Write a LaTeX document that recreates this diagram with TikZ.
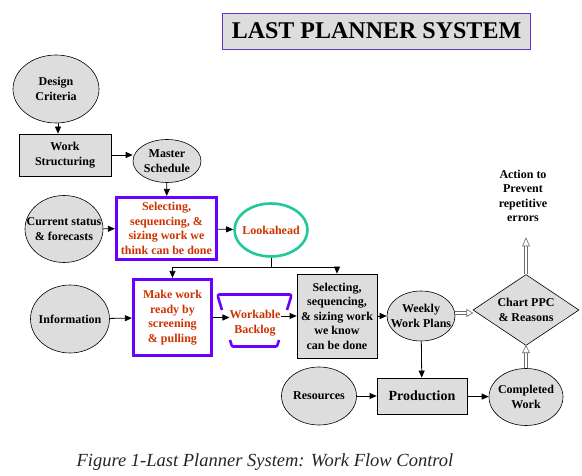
\documentclass[tikz,border=0pt]{standalone}
\usepackage{fontspec}
\setmainfont{Liberation Serif}
\usetikzlibrary{shapes.geometric,arrows.meta,calc}
\definecolor{boxgray}{HTML}{DDDDDD}
\definecolor{vio}{HTML}{6A00FF}
\definecolor{titlevio}{HTML}{6633CC}
\definecolor{teal}{HTML}{1FC99A}
\definecolor{redtxt}{HTML}{CC3300}
\begin{document}
\begin{tikzpicture}[x=1pt,y=-1pt,
  bodyfont/.style={font=\fontsize{12}{14.5}\selectfont\bfseries, align=center},
  ell/.style={ellipse, draw=black, line width=0.6pt, fill=boxgray, inner sep=0pt},
  etext/.style={bodyfont, inner sep=0pt},
  gbox/.style={rectangle, draw=black, line width=0.8pt, fill=boxgray, inner sep=0pt, bodyfont},
  vbox/.style={rectangle, draw=vio, line width=3.2pt, fill=white, inner sep=0pt, bodyfont, text=redtxt},
  arr/.style={draw=black, line width=0.8pt, -{Triangle[length=7pt,width=6pt]}},
  hshaft/.style={draw=gray!85!black, line width=0.6pt, double=white, double distance=2.4pt},
  hhead/.style={draw=gray!85!black, line width=0.6pt, fill=white, line join=miter},
]
\useasboundingbox (0,0) rectangle (582,476);
\fill[white] (0,0) rectangle (582,476);

% title
\node[rectangle, draw=titlevio, line width=0.9pt, fill=boxgray, minimum width=308pt, minimum height=36pt,
  font=\fontsize{24}{26}\selectfont\bfseries] (title) at (376.5,31) {LAST PLANNER SYSTEM};

% nodes
\node[ell, minimum width=86pt, minimum height=68pt, label={[etext]center:{Design\\Criteria}}] (dc) at (56,89) {};
\node[gbox, minimum width=92pt, minimum height=42pt] (ws) at (65,155) {Work\\Structuring};
\node[ell, minimum width=68pt, minimum height=43pt, label={[etext]center:{Master\\Schedule}}] (ms) at (167,161) {};
\node[ell, minimum width=78pt, minimum height=67pt, label={[etext]center:{Current status\\\& forecasts}}] (cs) at (64,229) {};
\node[vbox, minimum width=100pt, minimum height=62pt] (s1) at (166.5,228.5)
  {Selecting,\\sequencing, \&\\sizing work we\\think can be done};
\node[ellipse, draw=teal, line width=2.6pt, fill=white, inner sep=0pt, minimum width=73pt, minimum height=53pt,
  label={[etext, text=redtxt]center:Lookahead}] (la) at (271,230) {};
\node[ell, minimum width=79pt, minimum height=68pt, label={[etext]center:Information}] (inf) at (70,319) {};
\node[vbox, minimum width=78pt, minimum height=76pt] (mw) at (172.5,317.5)
  {Make work\\ready by\\screening\\\& pulling};
\node[bodyfont, text=redtxt, inner sep=0pt] (wb) at (255,323) {Workable\\Backlog};
\node[gbox, minimum width=80pt, minimum height=84pt] (s2) at (337,316)
  {Selecting,\\sequencing,\\\& sizing work\\we know\\can be done};
\node[ell, minimum width=68pt, minimum height=50pt, label={[etext]center:{Weekly\\Work Plans}}] (ww) at (421,316) {};
\node[diamond, draw=black, line width=0.6pt, fill=boxgray, inner sep=0pt, aspect=1.5,
  minimum width=106pt, minimum height=71pt, bodyfont] (ch) at (526,310) {Chart PPC\\\& Reasons};
\node[bodyfont] (act) at (523,196) {Action to\\Prevent\\repetitive\\errors};
\coordinate (actp) at (526,238);
\node[ell, minimum width=75pt, minimum height=58pt, label={[etext]center:Resources}] (res) at (319,396) {};
\node[gbox, minimum width=90pt, minimum height=36pt, font=\fontsize{14}{16}\selectfont\bfseries] (prod) at (422,396) {Production};
\node[ell, minimum width=74pt, minimum height=57pt, label={[etext]center:{Completed\\Work}}] (cw) at (526,397) {};

% workable backlog bracket shape
\draw[vio, line width=2.6pt, line join=round, rounded corners=1pt]
  (222,310) -- (218,297) -- (218,294.5) -- (291,294.5) -- (291,297) -- (287,310);
\draw[vio, line width=2.6pt, line join=round, rounded corners=1pt]
  (230,340) -- (232,346.5) -- (277,346.5) -- (279,340);

% caption
\node[font=\fontsize{18.5}{20}\selectfont\itshape, text=black!85, inner sep=0pt] (cap) at (265,462)
  {Figure 1-Last Planner System: Work Flow Control};

% connectors
\draw[arr] (dc.south -| 58,0) -- (ws.north -| 58,0);
\draw[arr] (ws.east) -- (ws.east -| ms.west);
\draw[arr] (ms) -- (s1);
\draw[arr] (cs) -- (s1);
\draw[arr] (s1) -- (la);
\coordinate (j) at (la.south |- 0,267);
\draw[line width=0.8pt] (la.south) -- (j);
\draw[arr] (j) -| (mw.north);
\draw[arr] (j) -| (s2.north);
\draw[arr] (inf) -- (mw);
\draw[arr] (mw.east) -- (mw.east -| wb.west);
\draw[arr] (wb.east |- s2.west) -- (s2.west);
\draw[arr] (s2) -- (ww);
\draw[arr] (ww) -- (prod);
\draw[arr] (res) -- (prod);
\draw[arr] (prod) -- (cw);
% hollow arrows
\coordinate (hw) at ($(ch.west)+(0,3)$);
\draw[hshaft] (ww.east |- hw) -- ($(hw)+(-5,0)$);
\draw[hhead] (hw) -- ++(-6,-3.5) -- ++(0,7) -- cycle;
\draw[hshaft] (ch.north) -- ($(actp)+(0,7)$);
\draw[hhead] (actp) -- ++(-3.5,8) -- ++(7,0) -- cycle;
\draw[hshaft] (cw.north) -- ($(ch.south)+(0,6)$);
\draw[hhead] (ch.south) -- ++(-3.5,7) -- ++(7,0) -- cycle;
\end{tikzpicture}
\end{document}
